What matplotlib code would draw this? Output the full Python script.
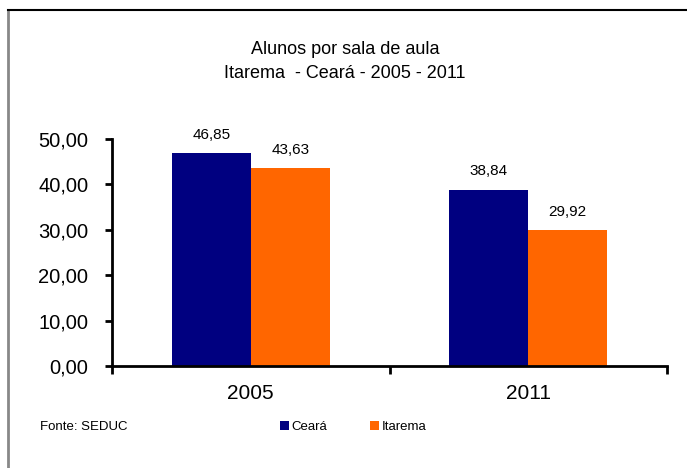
import numpy as np
import matplotlib.pyplot as plt

plt.rcParams['font.family'] = ['Liberation Sans', 'DejaVu Sans']

anos = ["2005", "2011"]
ceara = [46.85, 38.84]
itarema = [43.63, 29.92]
rotulos_y = ["0,00", "10,00", "20,00", "30,00", "40,00", "50,00"]

cor_ceara = "#000080"
cor_itarema = "#FF6600"

fig = plt.figure(figsize=(6.87, 4.68), dpi=100)

# moldura do grafico
fig.add_artist(plt.Line2D([8/687, 8/687], [0, 1 - 10/468], color="#888888", lw=2))
fig.add_artist(plt.Line2D([8/687, 1], [1 - 10/468, 1 - 10/468], color="black", lw=1.5))

ax = fig.add_axes([112/687, 1 - 366/468, 555/687, 227/468])

x = np.arange(len(anos))
largura = 0.285
ax.bar(x - largura/2, ceara, largura, color=cor_ceara, label="Ceará")
ax.bar(x + largura/2, itarema, largura, color=cor_itarema, label="Itarema")

for i in range(len(anos)):
    ax.text(x[i] - largura/2, ceara[i] + 2.5, f"{ceara[i]:.2f}".replace(".", ","),
            ha="center", va="bottom", fontsize=11)
    ax.text(x[i] + largura/2, itarema[i] + 2.5, f"{itarema[i]:.2f}".replace(".", ","),
            ha="center", va="bottom", fontsize=11)

ax.set_xlim(-0.5, 1.5)
ax.set_ylim(0, 50)
ax.set_yticks(np.arange(0, 51, 10))
ax.set_yticklabels(rotulos_y, fontsize=14.5)
ax.set_xticks(x)
ax.set_xticklabels(anos, fontsize=15)
ax.tick_params(axis="x", length=0, pad=13)
ax.tick_params(axis="y", direction="out", length=5, width=2, pad=12)
ax.set_xticks([-0.5, 0.5, 1.5], minor=True)
ax.tick_params(axis="x", which="minor", length=6, width=2, direction="out")

for lado in ["top", "right"]:
    ax.spines[lado].set_visible(False)
ax.spines["left"].set_linewidth(2)
ax.spines["bottom"].set_linewidth(2)

fig.text(345/687, 1 - 50/468, "Alunos por sala de aula", ha="center", va="center", fontsize=13)
fig.text(345/687, 1 - 73/468, "Itarema  - Ceará - 2005 - 2011", ha="center", va="center", fontsize=13)
fig.text(40/687, 1 - 427/468, "Fonte: SEDUC", ha="left", va="center", fontsize=9.5)

fig.legend(loc="center left", bbox_to_anchor=(268/687, 1 - 427/468), ncol=2, frameon=False,
           fontsize=9.5, handlelength=0.7, handleheight=0.7, handletextpad=0.2, columnspacing=3.2)

plt.savefig("out.png", dpi=100)
